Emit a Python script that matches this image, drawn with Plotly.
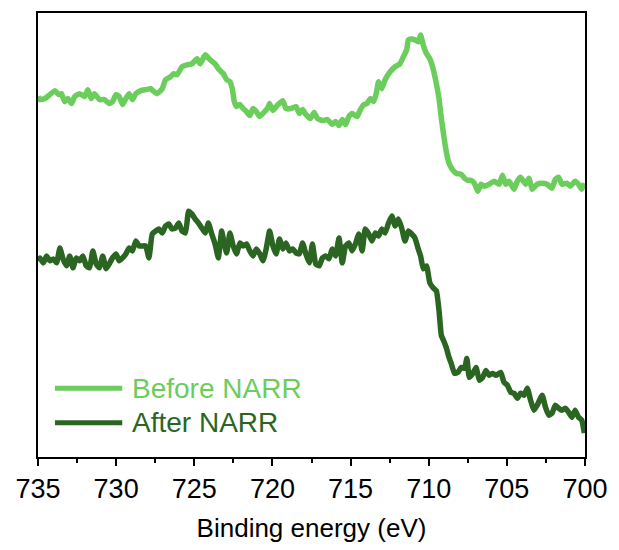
import plotly.graph_objects as go

# Binding energy (eV) and intensity (arb. units)
before_energy = [
    735.00, 734.87, 734.56, 734.24, 733.92, 733.67, 733.50, 733.29, 733.08, 732.86,
    732.65, 732.34, 732.02, 731.81, 731.60, 731.39, 731.07, 730.75, 730.44, 730.23,
    730.01, 729.80, 729.59, 729.38, 729.17, 728.96, 728.74, 728.42, 728.11, 727.79,
    727.58, 727.37, 727.05, 726.84, 726.52, 726.31, 726.10, 725.79, 725.47, 725.15,
    724.83, 724.62, 724.30, 723.99, 723.67,
    723.46, 723.14, 722.93, 722.72, 722.57, 722.44, 722.30, 722.08, 721.87, 721.66,
    721.45, 721.24, 721.03, 720.81, 720.50, 720.29, 720.18, 719.97, 719.65, 719.34,
    719.13, 718.81, 718.49, 718.28, 718.07, 717.86, 717.58, 717.33, 717.12, 716.80,
    716.48, 716.17, 715.96, 715.74, 715.53, 715.32, 715.11, 714.90, 714.58, 714.37,
    714.16, 713.95, 713.74, 713.52, 713.36, 713.21, 713.00, 712.79, 712.47, 712.15,
    711.84, 711.62, 711.41,
    711.30, 711.09, 710.88, 710.67, 710.52, 710.35, 710.14, 709.93, 709.72, 709.51,
    709.34, 709.19, 709.05, 708.88, 708.70, 708.49, 708.24, 707.92, 707.71, 707.50,
    707.29, 707.08, 706.86, 706.65, 706.45, 706.13, 705.81, 705.49, 705.28, 705.07,
    704.86, 704.54, 704.33, 704.12, 703.80, 703.59, 703.38, 703.06, 702.74, 702.42,
    702.11, 701.90, 701.69, 701.47, 701.16, 700.95, 700.63, 700.42, 700.21, 700.04]
before_intensity = [
    362, 359, 360, 364, 368, 364, 365, 357, 360, 355,
    362, 365, 362, 369, 360, 365, 359, 359, 355, 357,
    364, 362, 354, 360, 365, 359, 365, 368, 369, 370,
    367, 365, 370, 379, 382, 385, 384, 392, 394, 395,
    400, 395, 404, 399, 395,
    390, 385, 379, 377, 370, 357, 352, 354, 350, 347,
    343, 350, 347, 342, 347, 351, 355, 348, 354, 358,
    350, 350, 352, 345, 349, 344, 340, 346, 340, 338,
    339, 334, 337, 333, 339, 334, 342, 345, 342, 349,
    354, 355, 360, 357, 365, 377, 370, 379, 387, 392,
    395, 402, 409,
    419, 420, 419, 417, 424, 414, 405, 400, 390, 375,
    360, 340, 324, 307, 295, 289, 285, 284, 280, 278,
    278, 275, 267, 274, 272, 274, 277, 274, 283, 274,
    277, 269, 277, 281, 274, 280, 269, 274, 275, 274,
    270, 279, 281, 274, 275, 272, 277, 274, 269, 275]

after_energy = [
    735.00, 734.87, 734.66, 734.45, 734.24, 734.03, 733.81, 733.60, 733.40, 733.18,
    732.97, 732.76, 732.55, 732.34, 732.13, 731.91, 731.70, 731.49, 731.28, 731.07,
    730.86, 730.64, 730.44, 730.23, 730.01, 729.80, 729.59, 729.38, 729.17, 728.96,
    728.74, 728.53, 728.32, 728.11, 727.90, 727.69, 727.47, 727.26, 727.05, 726.84,
    726.63, 726.42, 726.20, 725.99, 725.79, 725.57, 725.36, 725.15, 724.94, 724.73,
    724.52, 724.30, 724.10, 723.88, 723.67, 723.46, 723.25,
    723.14, 722.93, 722.72, 722.51, 722.30, 722.08, 721.87, 721.66, 721.45, 721.24,
    721.03, 720.81, 720.60, 720.40, 720.18, 719.97, 719.76, 719.55, 719.34, 719.13,
    718.91, 718.70, 718.49, 718.28, 718.07, 717.86, 717.64, 717.44, 717.23, 717.01,
    716.80, 716.59, 716.38, 716.17, 715.96, 715.74, 715.53, 715.32, 715.11, 714.90,
    714.69, 714.47, 714.26, 714.06, 713.84, 713.63, 713.42, 713.21, 713.00, 712.79,
    712.57, 712.36, 712.15, 711.94, 711.73,
    711.52, 711.30, 711.09, 710.88, 710.67, 710.52, 710.35, 710.14, 709.93, 709.72,
    709.51, 709.34, 709.19, 709.05, 708.88, 708.70, 708.56, 708.35, 708.13, 707.92,
    707.71, 707.56, 707.40, 707.18, 706.97, 706.76, 706.55, 706.34, 706.13, 705.91,
    705.70, 705.39, 705.18, 704.96, 704.75, 704.54, 704.33, 704.12, 703.91, 703.69,
    703.48, 703.27, 703.06, 702.74, 702.53, 702.32, 702.11, 701.90, 701.69, 701.47,
    701.26, 701.05, 700.84, 700.63, 700.42, 700.21, 700.04]
after_intensity = [
    197, 200, 195, 202, 197, 199, 195, 210, 199, 192,
    202, 190, 200, 197, 202, 192, 190, 207, 194, 190,
    202, 189, 194, 200, 204, 197, 200, 204, 210, 207,
    217, 212, 212, 212, 200, 224, 227, 229, 225, 232,
    234, 229, 230, 235, 227, 225, 247, 244, 239, 235,
    230, 225, 235, 224, 214, 200, 227,
    219, 205, 225, 212, 204, 215, 212, 214, 207, 202,
    209, 204, 197, 209, 227, 212, 204, 219, 209, 215,
    207, 209, 205, 204, 215, 204, 195, 214, 194, 192,
    200, 202, 199, 209, 202, 220, 195, 212, 215, 207,
    214, 224, 207, 229, 224, 217, 225, 222, 229, 225,
    235, 242, 232, 239, 230,
    217, 227, 224, 220, 209, 202, 189, 192, 175, 170,
    167, 147, 122, 117, 110, 100, 94, 84, 85, 90,
    89, 99, 80, 84, 90, 77, 80, 87, 82, 84,
    82, 85, 75, 72, 65, 64, 59, 64, 62, 69,
    57, 47, 52, 62, 50, 42, 44, 52, 49, 47,
    49, 45, 40, 47, 40, 37, 24]

series_names = ["Before NARR", "After NARR"]
series_colors = ["#6BCD5B", "#2A6621"]

x_ticks = [735, 730, 725, 720, 715, 710, 705, 700]

fig = go.Figure()
fig.add_trace(go.Scatter(x=before_energy, y=before_intensity, mode="lines",
                         name=series_names[0],
                         line=dict(color=series_colors[0], width=5.5, shape="spline", smoothing=0.4),
                         showlegend=False))
fig.add_trace(go.Scatter(x=after_energy, y=after_intensity, mode="lines",
                         name=series_names[1],
                         line=dict(color=series_colors[1], width=5.5, shape="spline", smoothing=0.4),
                         showlegend=False))

# custom legend (long line samples + coloured text)
legend_rows = [0.155, 0.077]
for name, color, yy in zip(series_names, series_colors, legend_rows):
    fig.add_shape(type="line", xref="paper", yref="paper",
                  x0=0.031, x1=0.154, y0=yy, y1=yy,
                  line=dict(color=color, width=5))
    fig.add_annotation(xref="paper", yref="paper", x=0.168, y=yy, text=name,
                       showarrow=False, xanchor="left", yanchor="middle",
                       font=dict(family="Liberation Sans, Arial", size=28, color=color))

fig.update_layout(
    width=619, height=550,
    margin=dict(l=38, r=29, t=11, b=93),
    plot_bgcolor="white", paper_bgcolor="white",
    font=dict(family="Liberation Sans, Arial", color="black"),
    xaxis=dict(range=[735, 700], tickvals=x_ticks, ticks="outside", ticklen=7,
               tickwidth=1.5, tickcolor="black", showline=True, linecolor="black",
               linewidth=1.5, mirror=True, showgrid=False, zeroline=False,
               tickfont=dict(size=27),
               title=dict(text="Binding energy (eV)", font=dict(size=26), standoff=16),
               minor=dict(dtick=2.5, ticks="outside", ticklen=4, tickwidth=1.5,
                          tickcolor="black", showgrid=False)),
    yaxis=dict(range=[0, 446], showticklabels=False, ticks="", showline=True,
               linecolor="black", linewidth=1.5, mirror=True, showgrid=False,
               zeroline=False),
)

fig.write_html("out.html")
